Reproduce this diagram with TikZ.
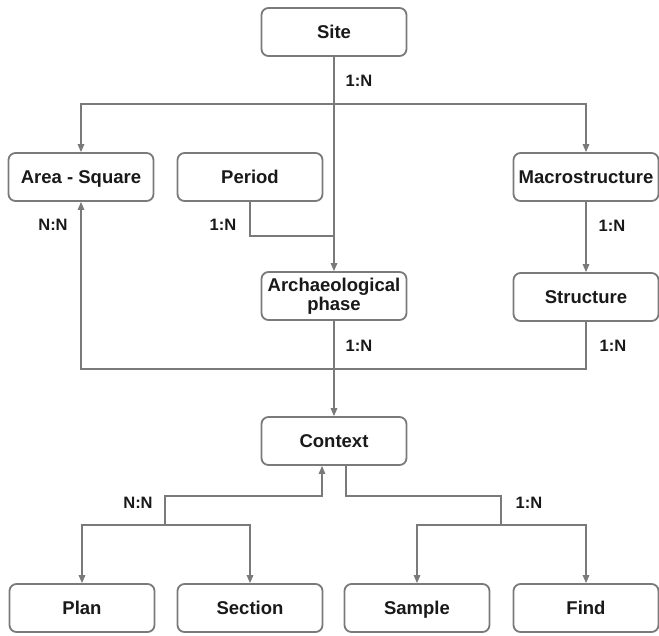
\documentclass[tikz,border=0pt]{standalone}
\usepackage{fontspec}
\setmainfont{Liberation Sans}
\usetikzlibrary{arrows.meta}
\definecolor{lc}{RGB}{122,122,122}
\definecolor{tc}{RGB}{25,25,25}
\begin{document}
\begin{tikzpicture}[x=1pt,y=-1pt,
 box/.style={draw=lc,line width=1.8pt,rounded corners=7pt,minimum width=145pt,minimum height=48pt,inner sep=1pt,font=\fontsize{18.5}{18.5}\selectfont\bfseries,text=tc,align=center,fill=white},
 sbox/.style={box,text height=13.4pt,text depth=0pt},
 conn/.style={draw=lc,line width=1.5pt},
 arr/.style={conn,-{Triangle[length=8pt,width=6.5pt]}},
 lbl/.style={font=\fontsize{16.5}{17}\selectfont\bfseries,text=tc,inner sep=0pt}]
\useasboundingbox (0,0) rectangle (659,635);
\node[sbox] (site) at (334,32) {Site};
\node[sbox] (area) at (81,177) {Area - Square};
\node[sbox] (period) at (250,177) {Period};
\node[sbox] (macro) at (586,177) {Macrostructure};
\node[box] (arch) at (334,296) {Archaeological\\phase};
\node[sbox] (struct) at (586,297) {Structure};
\node[sbox] (context) at (334,441) {Context};
\node[sbox] (plan) at (82,608) {Plan};
\node[sbox] (section) at (250,608) {Section};
\node[sbox] (sample) at (417,608) {Sample};
\node[sbox] (find) at (586,608) {Find};

\coordinate (sj) at (334,104);
\coordinate (pj) at (334,236);
\coordinate (cl) at (322,496);
\coordinate (cr) at (346,496);
\coordinate (lj) at (165,525);
\coordinate (rj) at (501,525);

\draw[arr] (site.south) -- (arch.north);
\draw[arr] (sj) -| (area.north);
\draw[arr] (sj) -| (macro.north);
\draw[conn] (period.south) |- (pj);
\draw[arr] (macro.south) -- (struct.north);
\draw[arr] (arch.south) -- (context.north);
\draw[arr] (struct.south) -- ++(0,47) -| (area.south);
\draw[arr] (lj) |- (cl) -- (cl |- context.south);
\draw[conn] (cr |- context.south) -- (cr) -| (rj);
\draw[arr] (lj) -| (plan.north);
\draw[arr] (lj) -| (section.north);
\draw[arr] (rj) -| (sample.north);
\draw[arr] (rj) -| (find.north);

\node[lbl] (l1) at (359,81) {1:N};
\node[lbl] (l2) at (53,225) {N:N};
\node[lbl] (l3) at (223,225) {1:N};
\node[lbl] (l4) at (612,226) {1:N};
\node[lbl] (l5) at (359,346) {1:N};
\node[lbl] (l6) at (613,346) {1:N};
\node[lbl] (l7) at (138,503) {N:N};
\node[lbl] (l8) at (529,503) {1:N};
\end{tikzpicture}
\end{document}
